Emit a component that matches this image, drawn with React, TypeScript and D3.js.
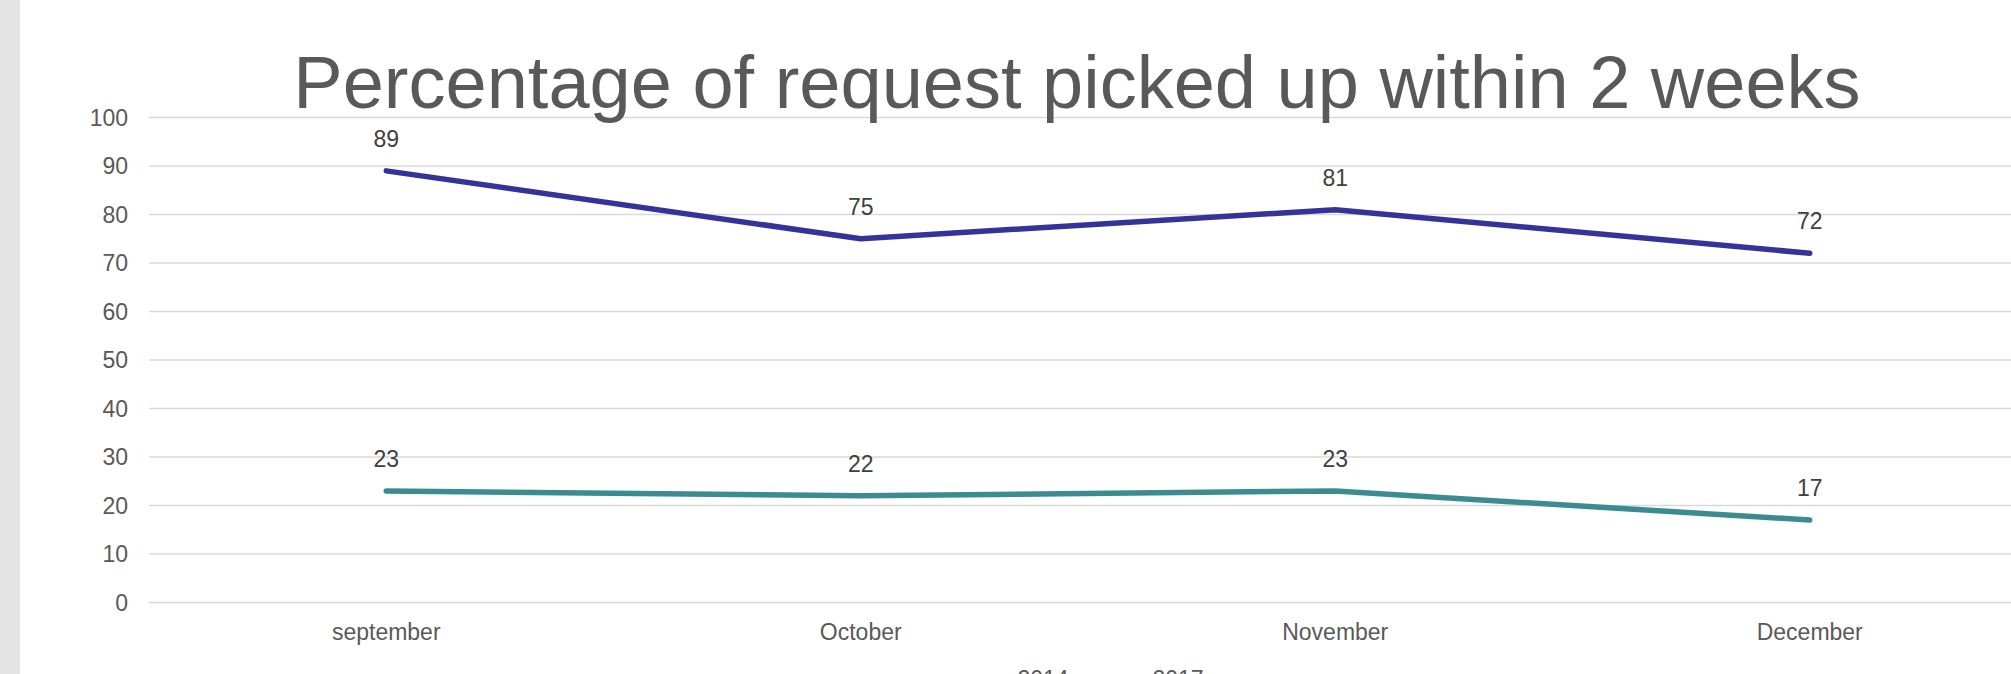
import React, { useEffect, useRef } from "react";
import * as d3 from "d3";

const months = ["september", "October", "November", "December"];
const values2014 = [89, 75, 81, 72];
const values2017 = [23, 22, 23, 17];
const seriesNames = ["2014", "2017"];
const yTicks = [0, 10, 20, 30, 40, 50, 60, 70, 80, 90, 100];

const title = "Percentage of request picked up within 2 weeks";
const colors = ["#333399", "#3b8b90"];

const App: React.FC = () => {
  const svgRef = useRef<SVGSVGElement | null>(null);

  useEffect(() => {
    if (!svgRef.current) return;
    const svg = d3.select(svgRef.current);
    svg.selectAll("*").remove();

    const width = 2011;
    const height = 674;
    const font = "'Liberation Sans', Arial, sans-serif";

    svg.attr("width", width).attr("height", height);

    svg
      .append("rect")
      .attr("width", width)
      .attr("height", height)
      .attr("fill", "#ffffff");

    // grey strip on the left
    svg
      .append("rect")
      .attr("x", 0)
      .attr("y", 0)
      .attr("width", 20)
      .attr("height", height)
      .attr("fill", "#e4e4e4");

    const x = d3
      .scaleBand<string>()
      .domain(months)
      .range([149, 149 + 4 * 474.5]);

    const y = d3.scaleLinear().domain([0, 100]).range([602.5, 117.5]);

    const cx = (m: string) => (x(m) ?? 0) + x.bandwidth() / 2;

    // gridlines
    svg
      .append("g")
      .selectAll("line")
      .data(yTicks)
      .enter()
      .append("line")
      .attr("x1", 149)
      .attr("x2", width)
      .attr("y1", (d) => y(d))
      .attr("y2", (d) => y(d))
      .attr("stroke", "#d9d9d9")
      .attr("stroke-width", 1.5);

    // y tick labels
    svg
      .append("g")
      .selectAll("text")
      .data(yTicks)
      .enter()
      .append("text")
      .attr("x", 128)
      .attr("y", (d) => y(d))
      .attr("dy", "0.35em")
      .attr("text-anchor", "end")
      .attr("font-family", font)
      .attr("font-size", 23)
      .attr("fill", "#595959")
      .text((d) => d);

    // x labels
    svg
      .append("g")
      .selectAll("text")
      .data(months)
      .enter()
      .append("text")
      .attr("x", (d) => cx(d))
      .attr("y", 640)
      .attr("text-anchor", "middle")
      .attr("font-family", font)
      .attr("font-size", 23)
      .attr("fill", "#595959")
      .text((d) => d);

    // title
    svg
      .append("text")
      .attr("x", 1077)
      .attr("y", 108)
      .attr("text-anchor", "middle")
      .attr("font-family", font)
      .attr("font-size", 74)
      .attr("fill", "#595959")
      .text(title);

    const line = d3
      .line<number>()
      .x((_, i) => cx(months[i]))
      .y((d) => y(d));

    const series = [values2014, values2017];

    series.forEach((vals, si) => {
      svg
        .append("path")
        .datum(vals)
        .attr("d", line)
        .attr("fill", "none")
        .attr("stroke", colors[si])
        .attr("stroke-width", 5.5)
        .attr("stroke-linecap", "round")
        .attr("stroke-linejoin", "round");

      svg
        .append("g")
        .selectAll("text")
        .data(vals)
        .enter()
        .append("text")
        .attr("x", (_, i) => cx(months[i]))
        .attr("y", (d) => y(d) - 24)
        .attr("text-anchor", "middle")
        .attr("font-family", font)
        .attr("font-size", 23)
        .attr("fill", "#404040")
        .text((d) => d);
    });

    // legend (mostly cut off at the bottom edge)
    const legendX = [1043, 1178];
    seriesNames.forEach((name, i) => {
      svg
        .append("line")
        .attr("x1", legendX[i] - 80)
        .attr("x2", legendX[i] - 36)
        .attr("y1", 679)
        .attr("y2", 679)
        .attr("stroke", colors[i])
        .attr("stroke-width", 5.5)
        .attr("stroke-linecap", "round");
      svg
        .append("text")
        .attr("x", legendX[i])
        .attr("y", 687)
        .attr("text-anchor", "middle")
        .attr("font-family", font)
        .attr("font-size", 23)
        .attr("fill", "#595959")
        .text(name);
    });
  }, []);

  return (
    <svg
      ref={svgRef}
      style={{ position: "absolute", left: 0, top: 0, display: "block" }}
    ></svg>
  );
};

export default App;
